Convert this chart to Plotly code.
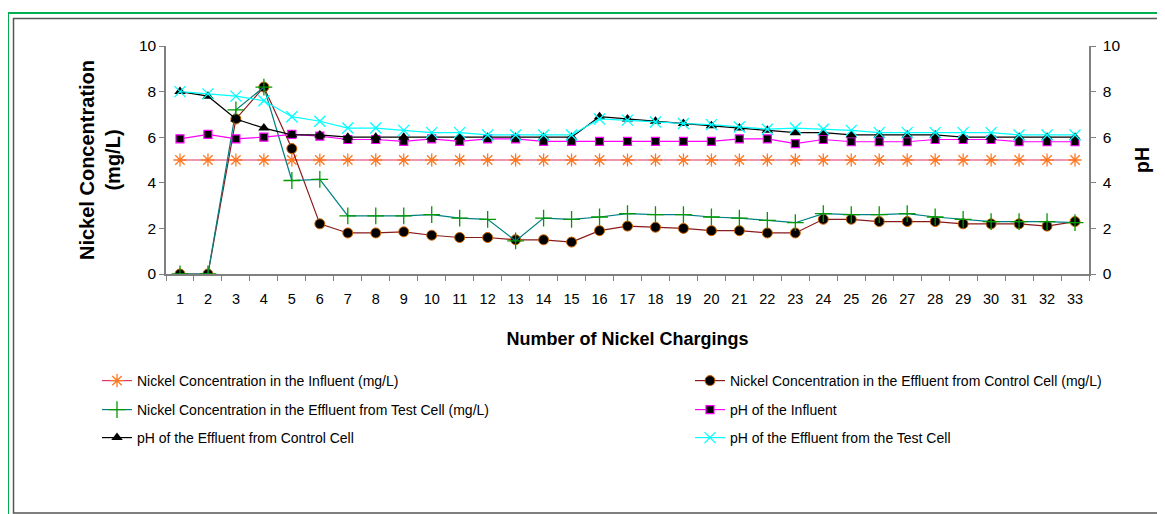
import plotly.graph_objects as go

charging = [str(i) for i in range(1, 34)]

ni_influent = [5.0] * 33
ni_control = [0.0, 0.0, 6.8, 8.2, 5.5, 2.2, 1.8, 1.8, 1.85, 1.7, 1.6,
              1.6, 1.5, 1.5, 1.4, 1.9, 2.1, 2.05, 2.0, 1.9, 1.9, 1.8, 1.8,
              2.4, 2.4, 2.3, 2.3, 2.3, 2.2, 2.2, 2.2, 2.1, 2.3]
ni_test = [0.0, 0.0, 7.2, 8.2, 4.1, 4.15, 2.55, 2.55, 2.55, 2.6, 2.45,
           2.4, 1.45, 2.45, 2.4, 2.5, 2.65, 2.6, 2.6, 2.5, 2.45, 2.35, 2.25,
           2.65, 2.6, 2.6, 2.65, 2.5, 2.4, 2.3, 2.3, 2.3, 2.25]
ph_influent = [5.93, 6.12, 5.93, 6.0, 6.12, 6.05, 5.9, 5.9, 5.82, 5.93, 5.82,
               5.93, 5.93, 5.82, 5.82, 5.82, 5.82, 5.82, 5.82, 5.82, 5.93, 5.93, 5.72,
               5.9, 5.8, 5.8, 5.8, 5.9, 5.9, 5.9, 5.8, 5.8, 5.8]
ph_control = [8.0, 7.8, 6.8, 6.4, 6.1, 6.1, 6.0, 6.0, 6.0, 6.0, 6.0,
              6.0, 6.0, 6.0, 6.0, 6.9, 6.8, 6.7, 6.6, 6.5, 6.4, 6.3, 6.2,
              6.2, 6.1, 6.1, 6.1, 6.1, 6.0, 6.0, 6.0, 6.0, 6.0]
ph_test = [8.0, 7.9, 7.8, 7.6, 6.9, 6.7, 6.4, 6.4, 6.3, 6.2, 6.2,
           6.1, 6.1, 6.1, 6.1, 6.8, 6.75, 6.67, 6.6, 6.55, 6.45, 6.35, 6.4,
           6.35, 6.3, 6.2, 6.2, 6.2, 6.2, 6.2, 6.1, 6.1, 6.1]

names = ["Nickel Concentration in the Influent (mg/L)",
         "Nickel Concentration in the Effluent from Control Cell (mg/L)",
         "Nickel Concentration in the Effluent from Test Cell (mg/L)",
         "pH of the Influent",
         "pH of the Effluent from Control Cell",
         "pH of the Effluent from the Test Cell"]

FONT = "Liberation Sans, Arial, sans-serif"

fig = go.Figure()

fig.add_trace(go.Scatter(x=charging, y=ni_influent, name=names[0], mode="lines+markers",
                         line=dict(color="#DD3366", width=1.2),
                         marker=dict(symbol="asterisk-open", size=11, color="#FF7722", line=dict(width=1.3, color="#FF7722")),
                         legend="legend"))
fig.add_trace(go.Scatter(x=charging, y=ni_control, name=names[1], mode="lines+markers",
                         line=dict(color="#8B1A1A", width=1.2),
                         marker=dict(symbol="circle", size=10, color="#000000", line=dict(width=1, color="#CC6600")),
                         legend="legend2"))
fig.add_trace(go.Scatter(x=charging, y=ni_test, name=names[2], mode="lines+markers",
                         line=dict(color="#008080", width=1.2),
                         marker=dict(symbol="cross-thin-open", size=12, color="#009900", line=dict(width=1.3, color="#009900")),
                         legend="legend3"))
fig.add_trace(go.Scatter(x=charging, y=ph_influent, name=names[3], mode="lines+markers", yaxis="y2",
                         line=dict(color="#FF00FF", width=1.2),
                         marker=dict(symbol="square", size=8, color="#000000", line=dict(width=1.2, color="#FF00FF")),
                         legend="legend4"))
fig.add_trace(go.Scatter(x=charging, y=ph_control, name=names[4], mode="lines+markers", yaxis="y2",
                         line=dict(color="#000000", width=1.2),
                         marker=dict(symbol="triangle-up", size=10, color="#000000"),
                         legend="legend5"))
fig.add_trace(go.Scatter(x=charging, y=ph_test, name=names[5], mode="lines+markers", yaxis="y2",
                         line=dict(color="#00FFFF", width=1.2),
                         marker=dict(symbol="x-thin-open", size=11, color="#00FFFF", line=dict(width=1.3, color="#00FFFF")),
                         legend="legend6"))

# page body has an 8px margin; work in window pixels and shift by OFF
OFF = 8
W, H = 1165 - OFF, 514 - OFF
PL, PR, PT, PB = 166, 1089, 46, 274   # plot area in window pixels
L, T = PL - OFF, PT - OFF
R = W - (PR - OFF)
B = H - (PB - OFF)
pw, ph = PR - PL, PB - PT


def px(x):
    return (x - PL) / pw


def py(y):
    return (PB - y) / ph


leg_common = dict(orientation="v", xanchor="left", yanchor="middle",
                  font=dict(family=FONT, size=14, color="#000000"),
                  bgcolor="rgba(0,0,0,0)", itemclick=False)

col1, col2 = 97, 690
rows = [381, 410, 438]

axis_font = dict(family=FONT, size=15.5, color="#000000")

fig.update_layout(
    width=W, height=H,
    margin=dict(l=L, r=R, t=T, b=B, autoexpand=False),
    paper_bgcolor="white", plot_bgcolor="white",
    font=dict(family=FONT, color="#000000"),
    xaxis=dict(type="category", range=[-0.5, len(charging) - 0.5], autorange=False,
               tickson="boundaries", ticks="outside", ticklen=5,
               tickcolor="#808080", showline=True, linecolor="#808080", linewidth=1.5,
               showgrid=False, zeroline=False, ticklabelstandoff=11,
               tickfont=dict(family=FONT, size=14.5, color="#000000"),
               title=dict(text="<b>Number of Nickel Chargings</b>",
                          font=dict(family=FONT, size=18, color="#000000"),
                          standoff=26)),
    yaxis=dict(range=[0, 10], dtick=2, ticks="outside", ticklen=5, tickcolor="#808080",
               showline=True, linecolor="#808080", linewidth=1.5, showgrid=False, zeroline=False,
               tickfont=axis_font,
               title=dict(text="<b>Nickel Concentration<br>(mg/L)</b>",
                          font=dict(family=FONT, size=20, color="#000000"),
                          standoff=13)),
    yaxis2=dict(range=[0, 10], dtick=2, overlaying="y", side="right", ticks="outside", ticklen=5,
                tickcolor="#808080", showline=True, linecolor="#808080", linewidth=1.5,
                showgrid=False, zeroline=False, tickfont=axis_font, ticklabelstandoff=4,
                title=dict(text="<b>pH</b>",
                           font=dict(family=FONT, size=19.5, color="#000000"),
                           standoff=16)),
    legend=dict(x=px(col1), y=py(rows[0]), **leg_common),
    legend2=dict(x=px(col2), y=py(rows[0]), **leg_common),
    legend3=dict(x=px(col1), y=py(rows[1]), **leg_common),
    legend4=dict(x=px(col2), y=py(rows[1]), **leg_common),
    legend5=dict(x=px(col1), y=py(rows[2]), **leg_common),
    legend6=dict(x=px(col2), y=py(rows[2]), **leg_common),
    shapes=[
        dict(type="rect", xref="paper", yref="paper", x0=px(8), x1=px(1185), y0=py(13), y1=py(535),
             line=dict(color="#00B050", width=2), fillcolor="rgba(0,0,0,0)", layer="above"),
        dict(type="rect", xref="paper", yref="paper", x0=px(13.5), x1=px(1185), y0=py(18.5), y1=py(513),
             line=dict(color="#555555", width=1.5), fillcolor="rgba(0,0,0,0)", layer="above"),
    ],
    showlegend=True,
)

fig.write_html("out.html")
